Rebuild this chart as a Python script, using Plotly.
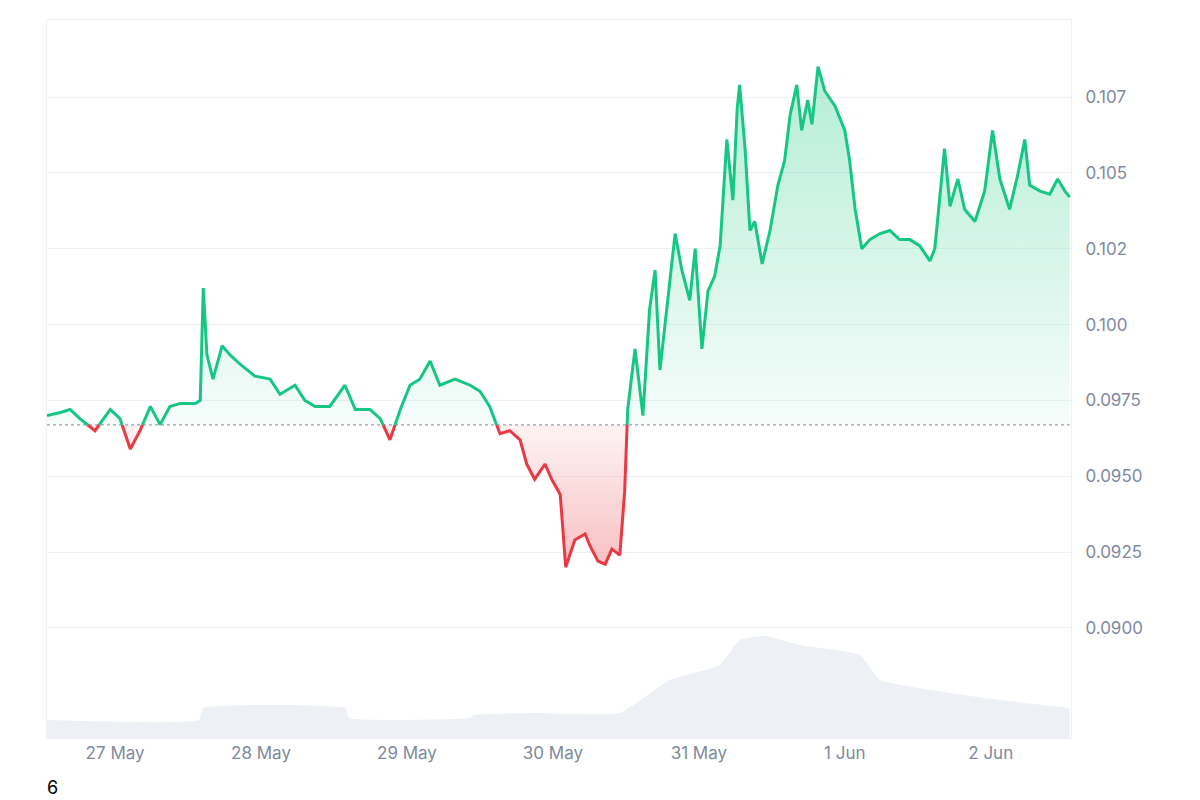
import numpy as np
import pandas as pd
import plotly.graph_objects as go

# hours after 27 May 00:00
hours = [-11.2, -9.0, -7.4, -5.8, -3.3, -0.8, 0.8, 2.5, 4.1, 5.8, 7.4, 9.0, 10.7, 13.2, 14.0,
         14.5, 15.1, 16.1, 17.6, 18.9, 20.5, 23.0, 25.5, 27.1, 29.6, 31.2, 32.9, 35.3, 37.8,
         39.5, 41.9, 43.6, 45.2, 46.9, 48.5, 50.1, 51.8, 53.4, 55.9, 58.4, 60.0, 61.6, 63.3,
         64.9, 66.6, 67.7, 69.0, 70.7, 71.8, 73.2, 74.1, 75.6, 77.3, 78.1, 79.4, 80.6, 81.7,
         83.0, 83.8, 84.3, 85.5, 86.8, 87.9, 88.8, 89.6, 90.9, 92.1, 93.2, 94.5, 95.4, 96.5,
         97.5, 98.6, 99.5, 100.6, 101.6, 102.3, 102.7, 103.6, 104.4, 105.2, 106.4, 107.7,
         109.0, 110.1, 111.0, 112.1, 112.9, 113.9, 114.6, 115.6, 116.7, 118.4, 120.0, 120.8,
         121.7, 122.8, 124.1, 125.8, 127.4, 129.0, 130.7, 132.3, 134.0, 134.8, 136.4, 137.3,
         138.6, 139.7, 141.4, 143.0, 144.3, 145.5, 147.1, 148.4, 149.6, 150.4, 152.1, 153.7,
         155.0, 156.2, 157.0]
price = [0.0970, 0.0971, 0.0972, 0.0969, 0.0965, 0.0972, 0.0969, 0.0959, 0.0965, 0.0973,
         0.0967, 0.0973, 0.0974, 0.0974, 0.0975, 0.1012, 0.0990, 0.0982, 0.0993, 0.0990,
         0.0987, 0.0983, 0.0982, 0.0977, 0.0980, 0.0975, 0.0973, 0.0973, 0.0980, 0.0972,
         0.0972, 0.0969, 0.0962, 0.0972, 0.0980, 0.0982, 0.0988, 0.0980, 0.0982, 0.0980,
         0.0978, 0.0973, 0.0964, 0.0965, 0.0962, 0.0954, 0.0949, 0.0954, 0.0949, 0.0944,
         0.0920, 0.0929, 0.0931, 0.0927, 0.0922, 0.0921, 0.0926, 0.0924, 0.0945, 0.0972,
         0.0992, 0.0970, 0.1005, 0.1018, 0.0985, 0.1008, 0.1030, 0.1018, 0.1008, 0.1025,
         0.0992, 0.1011, 0.1016, 0.1026, 0.1061, 0.1041, 0.1071, 0.1079, 0.1058, 0.1031,
         0.1034, 0.1020, 0.1031, 0.1046, 0.1054, 0.1069, 0.1079, 0.1064, 0.1074, 0.1066,
         0.1085, 0.1077, 0.1072, 0.1064, 0.1054, 0.1038, 0.1025, 0.1028, 0.1030, 0.1031,
         0.1028, 0.1028, 0.1026, 0.1021, 0.1025, 0.1058, 0.1039, 0.1048, 0.1038, 0.1034,
         0.1044, 0.1064, 0.1048, 0.1038, 0.1049, 0.1061, 0.1046, 0.1044, 0.1043, 0.1048,
         0.1044, 0.1042]
base_price = 0.09669

vol_hours = [-11.2, 13.8, 14.5, 37.8, 38.5, 58.4, 59.0, 68.6, 83.0, 91.2, 99.5, 102.7,
             106.9, 112.6, 122.5, 125.8, 134.0, 145.5, 157.0]
volume = [18, 18, 30, 30, 20, 20, 23, 25, 25, 58, 73, 98, 102, 93, 83, 58, 48, 38, 30]

tick_vals = [0.0900, 0.0925, 0.0950, 0.0975, 0.1000, 0.1025, 0.1050, 0.1075]
tick_text = ["0.0900", "0.0925", "0.0950", "0.0975", "0.100", "0.102", "0.105", "0.107"]

GREEN = "#16c784"
RED = "#ea3943"

t0 = pd.Timestamp("2024-05-27")


def to_time(h):
    return [t0 + pd.Timedelta(hours=v) for v in h]


# split the line where it crosses the baseline
hx, py = [hours[0]], [price[0]]
for i in range(1, len(hours)):
    a, b = price[i - 1] - base_price, price[i] - base_price
    if a * b < 0:
        f = a / (a - b)
        hx.append(hours[i - 1] + f * (hours[i] - hours[i - 1]))
        py.append(base_price)
    hx.append(hours[i])
    py.append(price[i])
hx = np.array(hx)
py = np.array(py)
tx = to_time(hx)
up = np.where(py >= base_price - 1e-9, py, np.nan)
dn = np.where(py <= base_price + 1e-9, py, np.nan)
base = [base_price] * len(tx)

fig = go.Figure()
fig.add_trace(go.Scatter(x=to_time(vol_hours), y=volume, yaxis="y2", mode="lines",
                         line=dict(width=0, shape="spline", smoothing=0.4), fill="tozeroy",
                         fillcolor="rgba(215,221,232,0.45)", hoverinfo="skip"))

fig.add_trace(go.Scatter(x=tx, y=base, mode="lines", line=dict(width=0), hoverinfo="skip"))
fig.add_trace(go.Scatter(x=tx, y=np.maximum(py, base_price), mode="lines", line=dict(width=0),
                         fill="tonexty", hoverinfo="skip",
                         fillgradient=dict(type="vertical", start=base_price, stop=0.1085,
                                           colorscale=[[0, "rgba(22,199,132,0.04)"],
                                                       [1, "rgba(22,199,132,0.32)"]])))
fig.add_trace(go.Scatter(x=tx, y=base, mode="lines", line=dict(width=0), hoverinfo="skip"))
fig.add_trace(go.Scatter(x=tx, y=np.minimum(py, base_price), mode="lines", line=dict(width=0),
                         fill="tonexty", hoverinfo="skip",
                         fillgradient=dict(type="vertical", start=0.0920, stop=base_price,
                                           colorscale=[[0, "rgba(234,57,67,0.32)"],
                                                       [1, "rgba(234,57,67,0.06)"]])))
fig.add_trace(go.Scatter(x=[tx[0], tx[-1]], y=[base_price, base_price], mode="lines",
                         line=dict(color="#9aa1ad", width=1.3, dash="dot"), hoverinfo="skip"))
fig.add_trace(go.Scatter(x=tx, y=up, mode="lines", line=dict(color=GREEN, width=3),
                         connectgaps=False))
fig.add_trace(go.Scatter(x=tx, y=dn, mode="lines", line=dict(color=RED, width=3),
                         connectgaps=False))

fig.update_layout(
    width=1200, height=800, showlegend=False,
    paper_bgcolor="white", plot_bgcolor="white",
    margin=dict(l=39, r=137, t=12, b=70),
    font=dict(family="Inter, sans-serif", color="#808a9d", size=17),
    xaxis=dict(range=[t0 + pd.Timedelta(hours=-11.2), t0 + pd.Timedelta(hours=157.2)],
               tickformat="%-d %b", dtick=86400000, showgrid=False,
               showline=True, linecolor="#eff2f5", mirror=True, ticks=""),
    yaxis=dict(side="right", range=[0.08637, 0.11004], tickvals=tick_vals, ticktext=tick_text,
               gridcolor="#eff2f5", zeroline=False, showline=True, linecolor="#eff2f5",
               mirror=True, ticklabelstandoff=10),
    yaxis2=dict(overlaying="y", range=[0, 718], visible=False),
    annotations=[dict(text="6", x=0, y=0, xref="paper", yref="paper",
                      xanchor="left", yanchor="bottom", showarrow=False,
                      font=dict(color="black", size=18), xshift=-2, yshift=-62)],
)
fig.write_html("out.html")
